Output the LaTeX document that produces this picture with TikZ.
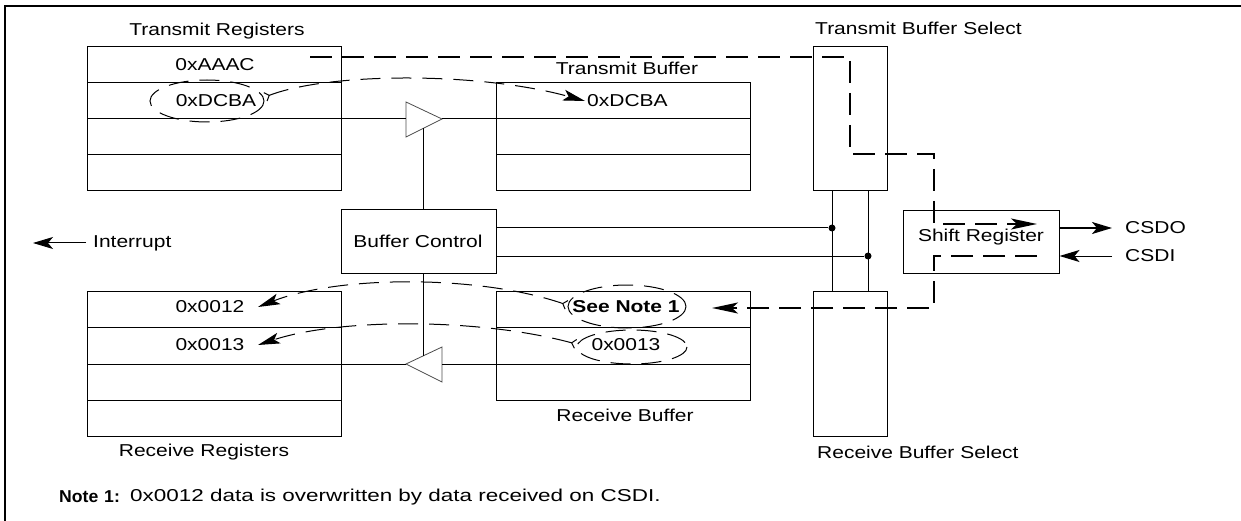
\documentclass[tikz,border=0pt]{standalone}
\usepackage{graphicx}
\usepackage{fontspec}
\setmainfont{Liberation Sans}[FakeStretch=1.22]
\usetikzlibrary{arrows.meta}
\begin{document}
\begin{tikzpicture}[x=1pt,y=-1pt,
  font=\fontsize{17.2}{20}\selectfont,
  box/.style={draw,line width=1pt,inner sep=0pt},
  wire/.style={line width=1pt},
  tri/.style={draw=black!70,line width=0.8pt},
  thickdash/.style={line width=2pt,dash pattern=on 22pt off 10pt},
  thindash/.style={line width=1pt,dash pattern=on 20pt off 11pt},
  lbl/.style={inner sep=0pt},
  dot/.style={circle,fill,inner sep=0pt,minimum size=7pt},
  bigtip/.style={-{Stealth[length=20pt,width=12pt,inset=5pt]}},
  curvetips/.style={{Straight Barb[reversed,length=4pt,width=9pt]}-{Stealth[length=22pt,width=11pt,inset=5pt]}},
  pathtip/.style={-{Stealth[length=26pt,width=11pt,inset=6pt]}}
]
\useasboundingbox (0,0) rectangle (1241,521);
% frame
\draw[line width=2.5pt] (5,521) -- (5,6) -- (1241,6);

% boxes
\node[box,minimum width=254pt,minimum height=144pt] (treg) at (214,119) {};
\foreach \yy in {83,119,155} \draw[wire] (87,\yy) -- (341,\yy);
\node[box,minimum width=254pt,minimum height=108pt] (tbuf) at (623,137) {};
\foreach \yy in {119,155} \draw[wire] (496,\yy) -- (750,\yy);
\node[box,minimum width=254pt,minimum height=145pt] (rreg) at (214,363.5) {};
\foreach \yy in {327,364,400} \draw[wire] (87,\yy) -- (341,\yy);
\node[box,minimum width=254pt,minimum height=109pt] (rbuf) at (623,345.5) {};
\foreach \yy in {327,364} \draw[wire] (496,\yy) -- (750,\yy);
\node[box,minimum width=74pt,minimum height=144pt] (tsel) at (850,119) {};
\node[box,minimum width=74pt,minimum height=145pt] (rsel) at (850,363.5) {};
\node[box,minimum width=155pt,minimum height=63pt] (bctl) at (418.5,241.5) {};
\node[lbl] at (418,241) {Buffer Control};
\node[box,minimum width=156pt,minimum height=62pt] (shreg) at (981,242) {};
\node[lbl] at (981,237) {Shift Register};

% labels
\node[lbl] (ltreg) at (217,31) {Transmit Registers};
\node[lbl] (ltbuf) at (627,68) {Transmit Buffer};
\node[lbl,anchor=west] (ltsel) at (815,28) {Transmit Buffer Select};
\node[lbl] (lrbuf) at (625,415) {Receive Buffer};
\node[lbl] (lrreg) at (204,452) {Receive Registers};
\node[lbl,anchor=west] (lrsel) at (817,452) {Receive Buffer Select};

% register contents
\node[lbl] (aaac) at (215,65) {0xAAAC};
\node[lbl] (dcba1) at (216,101) {0xDCBA};
\node[lbl,anchor=west] (dcba2) at (587,101) {0xDCBA};
\node[lbl] (r12) at (210,307) {0x0012};
\node[lbl] (r13) at (210,345) {0x0013};
\node[lbl] (see) at (626,307) {\bfseries See Note 1};
\node[lbl] (b13) at (626,345) {0x0013};

% buffers (triangles)
\draw[tri] (406,102) -- (442,119) -- (406,137) -- cycle;
\coordinate (ttl) at (406,119); \coordinate (ttr) at (442,119); \coordinate (ttb) at (423,128.5);
\draw[tri] (442,347) -- (406,364) -- (442,382) -- cycle;
\coordinate (rtl) at (406,364); \coordinate (rtr) at (442,364); \coordinate (rtt) at (423,356);

\coordinate (tregR) at (341,119); \coordinate (tbufL) at (496,119);
\coordinate (rregR) at (341,364); \coordinate (rbufL) at (496,364);
\draw[wire] (tregR) -- (ttl);
\draw[wire] (ttr) -- (tbufL);
\draw[wire] (rbufL) -- (rtr);
\draw[wire] (rtl) -- (rregR);
\draw[wire] (ttb) -- (ttb |- bctl.north);
\draw[wire] (ttb |- bctl.south) -- (rtt);

% control bus
\node[dot] (d1) at (832,228) {};
\node[dot] (d2) at (868,256) {};
\draw[wire] (bctl.east |- d1) -- (d1);
\draw[wire] (bctl.east |- d2) -- (d2);
\draw[wire] (tsel.south -| d1) -- (rsel.north -| d1);
\draw[wire] (tsel.south -| d2) -- (rsel.north -| d2);

% external signals
\node[lbl,anchor=west] (int) at (93,243) {Interrupt};
\coordinate (intend) at (33,243);
\draw[wire,bigtip] ([xshift=-7pt]int.west) -- (intend);
\node[lbl,anchor=west] (csdo) at (1125,228) {CSDO};
\node[lbl,anchor=west] (csdi) at (1125,256) {CSDI};
\draw[line width=2pt,bigtip] (shreg.east |- csdo) -- ([xshift=-13pt]csdo.west);
\draw[wire,bigtip] ([xshift=-13pt]csdi.west) -- (shreg.east |- csdi);

% thick dashed data paths
\coordinate (p1s) at (310,57); \coordinate (p1e) at (1037,224);
\draw[thickdash,pathtip] (p1s) -- (850,57) -- (850,154) -- (934,154) -- (934,224) -- (p1e);
\coordinate (p2s) at (1037,256); \coordinate (p2e) at (712,308);
\draw[thickdash,pathtip] (p2s) -- (934,256) -- (934,308) -- (p2e);

% ellipses
\draw[thindash] (207,101) ellipse [x radius=57, y radius=21];
\draw[thindash] (627,306.5) ellipse [x radius=59, y radius=21.5];
\draw[thindash] (632,347) ellipse [x radius=55, y radius=17];

% thin dashed transfer curves
\coordinate (ca0) at (265,97); \coordinate (ca1) at (585,101);
\draw[thindash,curvetips] (ca0) .. controls (330,72) and (480,72) .. (ca1);
\coordinate (cb0) at (567,305); \coordinate (cb1) at (258,307);
\draw[thindash,curvetips] (cb0) .. controls (480,275) and (340,275) .. (cb1);
\coordinate (cc0) at (576,344); \coordinate (cc1) at (258,345);
\draw[thindash,curvetips] (cc0) .. controls (480,318) and (340,318) .. (cc1);

% note
\node[lbl,anchor=west] (note) at (59,497) {\scalebox{0.84}[1]{\bfseries Note\hspace{7pt}1:}};
\node[lbl,anchor=west] (notet) at (130,497) {\scalebox{1.07}[1]{0x0012 data is overwritten by data received on CSDI.}};
\end{tikzpicture}
\end{document}
